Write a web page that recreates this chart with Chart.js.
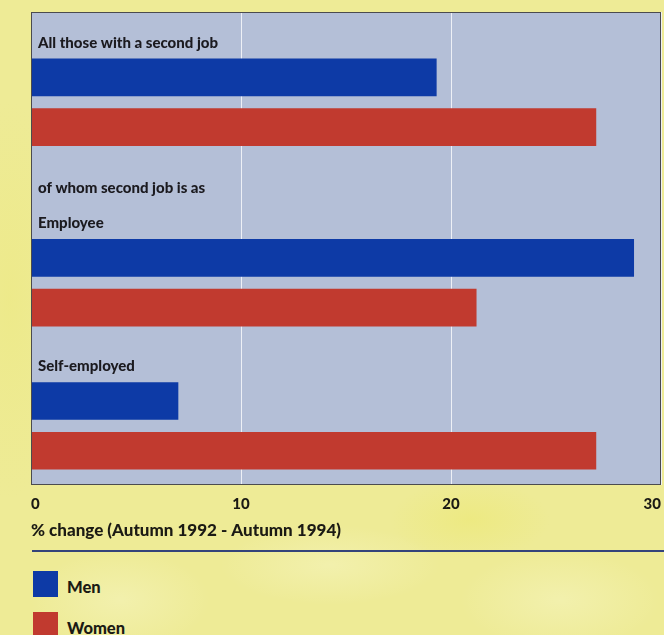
<!DOCTYPE html>
<html lang="en">
<head>
<meta charset="utf-8">
<title>Second jobs: % change, Autumn 1992 - Autumn 1994</title>
<script src="https://cdn.jsdelivr.net/npm/chart.js@4.4.1/dist/chart.umd.min.js"></script>
<style>
  html, body {
    margin: 0;
    padding: 0;
    width: 664px;
    height: 635px;
    overflow: hidden;
  }
  body {
    position: relative;
    font-family: Lato, "Open Sans", sans-serif;
    background-color: #eeeb96;
    background-image:
      radial-gradient(ellipse 90px 50px at 120px 600px, rgba(250,250,215,0.35), rgba(250,250,215,0) 100%),
      radial-gradient(ellipse 110px 40px at 330px 565px, rgba(250,250,215,0.35), rgba(250,250,215,0) 100%),
      radial-gradient(ellipse 100px 50px at 560px 600px, rgba(250,250,215,0.35), rgba(250,250,215,0) 100%),
      radial-gradient(ellipse 80px 40px at 470px 520px, rgba(236,232,110,0.5), rgba(236,232,110,0) 100%),
      radial-gradient(ellipse 60px 200px at 10px 300px, rgba(236,232,120,0.4), rgba(236,232,120,0) 100%);
  }
  #chart-box {
    position: absolute;
    left: 0;
    top: 0;
    width: 664px;
    height: 548px;
  }
  #rule {
    position: absolute;
    left: 32px;
    top: 550px;
    width: 632px;
    height: 2px;
    background: #34447a;
  }
  #legend {
    position: absolute;
    left: 33px;
    top: 571px;
  }
  .legend-item {
    display: flex;
    align-items: center;
    height: 26px;
    margin-bottom: 15px;
  }
  .legend-swatch {
    width: 25px;
    height: 26px;
    margin-right: 9px;
  }
  .legend-text {
    font-weight: 900;
    font-size: 16.5px;
    color: #1b1a14;
    position: relative;
    top: 3px;
  }
</style>
</head>
<body>
<div id="chart-box"><canvas id="grafico"></canvas></div>
<div id="rule"></div>
<div id="legend"></div>

<script>
// Values read as % change between Autumn 1992 and Autumn 1994
const groups = ['All those with a second job', 'Employee', 'Self-employed'];
const subheading = 'of whom second job is as'; // printed above "Employee"
const men = [19.3, 28.7, 7.0];
const women = [26.9, 21.2, 26.9];
const xTicks = [0, 10, 20, 30];

const seriesNames = ['Men', 'Women'];
const seriesColors = ['#0d3aa6', '#c13a2f'];

// Vertical layout: the y axis is split into equal slots, bars sit in some of them
const SLOTS = 76;
const firstSlot = [10, 39, 62]; // slot of the Men bar in each group
const pairStep = 8;             // Women bar sits this many slots lower
const BAR = 37;

function fillSlots(values, offset) {
  const out = new Array(SLOTS).fill(null);
  values.forEach((v, i) => { out[firstSlot[i] + offset] = v; });
  return out;
}

const slotLabels = Array.from({ length: SLOTS }, (_, i) => 'r' + i);

const FONT = 'Lato, "Open Sans", sans-serif';

// Plot background, frame and the group headings inside the plot
const plotDecor = {
  id: 'plotDecor',
  beforeDraw(chart) {
    const { ctx, chartArea: a } = chart;
    ctx.save();
    ctx.fillStyle = '#b4bfd7';
    ctx.fillRect(a.left, a.top, a.right - a.left, a.bottom - a.top);
    ctx.restore();
  },
  afterDatasetsDraw(chart) {
    const { ctx, chartArea: a } = chart;
    const y = chart.scales.y;
    ctx.save();
    ctx.fillStyle = '#1b1a1f';
    ctx.font = '900 15px ' + FONT;
    ctx.textBaseline = 'middle';
    groups.forEach((g, i) => {
      const top = y.getPixelForValue(firstSlot[i]) - BAR / 2;
      ctx.fillText(g, a.left + 7, top - 16);
      if (i === 1) {
        ctx.fillText(subheading, a.left + 7, top - 51);
      }
    });
    ctx.strokeStyle = '#4b4b4e';
    ctx.lineWidth = 1;
    ctx.strokeRect(a.left + 0.5, a.top + 0.5, a.right - a.left - 1, a.bottom - a.top - 1);
    ctx.restore();
  }
};

document.addEventListener('DOMContentLoaded', () => {
  const ctx = document.getElementById('grafico').getContext('2d');

  new Chart(ctx, {
    type: 'bar',
    data: {
      labels: slotLabels,
      datasets: [
        { label: seriesNames[0], data: fillSlots(men, 0), backgroundColor: seriesColors[0] },
        { label: seriesNames[1], data: fillSlots(women, pairStep), backgroundColor: seriesColors[1] }
      ]
    },
    options: {
      indexAxis: 'y',
      responsive: true,
      maintainAspectRatio: false,
      animation: false,
      layout: { padding: { left: 31, right: 3, top: 12, bottom: 0 } },
      datasets: {
        bar: { grouped: false, barThickness: BAR, borderWidth: 0 }
      },
      plugins: {
        legend: { display: false },
        tooltip: { enabled: false }
      },
      scales: {
        y: {
          display: false,
          offset: true
        },
        x: {
          min: xTicks[0],
          max: xTicks[xTicks.length - 1],
          afterFit(scale) {
            scale.height = 63;
            // labels are aligned inward, so no extra side room is needed
            scale.paddingLeft = 0;
            scale.paddingRight = 0;
          },
          afterBuildTicks(scale) { scale.ticks = xTicks.map(v => ({ value: v })); },
          border: { display: false },
          grid: { color: '#eef0f6', lineWidth: 1, drawTicks: false },
          ticks: {
            align: 'inner',
            padding: 10,
            color: '#1b1a14',
            font: { family: FONT, weight: '900', size: 15 }
          },
          title: {
            display: true,
            align: 'start',
            text: '% change (Autumn 1992 - Autumn 1994)',
            color: '#1b1a14',
            padding: { top: 0, bottom: 7 },
            font: { family: FONT, weight: '900', size: 17 }
          }
        }
      }
    },
    plugins: [plotDecor]
  });

  // Legend below the rule, built from the series lists
  const legend = document.getElementById('legend');
  seriesNames.forEach((name, i) => {
    const item = document.createElement('div');
    item.className = 'legend-item';
    const sw = document.createElement('div');
    sw.className = 'legend-swatch';
    sw.style.background = seriesColors[i];
    const txt = document.createElement('span');
    txt.className = 'legend-text';
    txt.textContent = name;
    item.appendChild(sw);
    item.appendChild(txt);
    legend.appendChild(item);
  });
});
</script>
</body>
</html>
